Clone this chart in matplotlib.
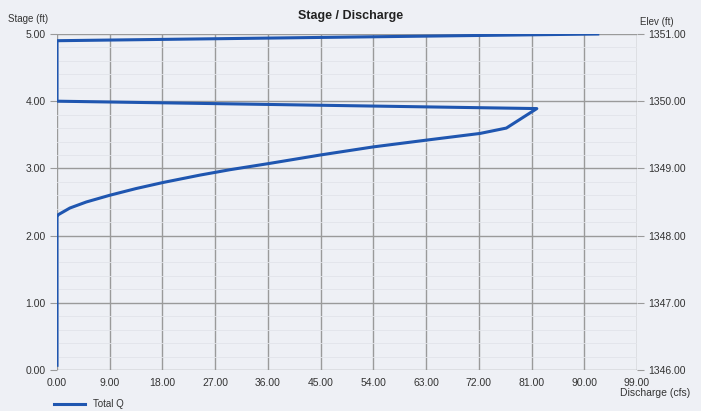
import numpy as np
import matplotlib.pyplot as plt
from matplotlib.ticker import MultipleLocator, FormatStrFormatter

plt.rcParams['font.family'] = ['Liberation Sans', 'DejaVu Sans']

# Total Q rating curve (discharge cfs, stage ft)
discharge = [0.0, 0.0, 0.2, 2.2, 5.0, 9.0, 13.5, 18.1, 24.4, 29.5, 36.0, 45.0,
             54.0, 63.0, 72.2, 76.7, 81.9, 0.0, 0.0, 92.3]
stage = [0.07, 2.28, 2.31, 2.41, 2.50, 2.60, 2.70, 2.79, 2.90, 2.98, 3.07, 3.20,
         3.32, 3.42, 3.52, 3.60, 3.89, 4.00, 4.90, 5.00]

elev_base = 1346.0
bg = '#eef0f5'
grid_c = '#9a9a9a'
line_c = '#1f56b0'

fig = plt.figure(figsize=(7.01, 4.11), dpi=100, facecolor=bg)
ax = fig.add_axes([0.0813, 0.0998, 0.8274, 0.8175], facecolor=bg)

ax.plot(discharge, stage, color=line_c, lw=2.2, label='Total Q', solid_joinstyle='round')

ax.set_xlim(0, 99)
ax.set_ylim(0, 5)
ax.xaxis.set_major_locator(MultipleLocator(9))
ax.yaxis.set_major_locator(MultipleLocator(1))
ax.yaxis.set_minor_locator(MultipleLocator(0.2))
ax.xaxis.set_major_formatter(FormatStrFormatter('%.2f'))
ax.yaxis.set_major_formatter(FormatStrFormatter('%.2f'))
ax.grid(True, which='major', color=grid_c, lw=1.0)
ax.grid(True, which='minor', axis='y', color='#e2e4ea', lw=0.6)
for s in ax.spines.values():
    s.set_visible(False)
ax.tick_params(axis='x', length=0, pad=6, labelsize=7.5, colors='#333333')
ax.tick_params(axis='y', length=5, color=grid_c, labelsize=7.5, colors='#333333', pad=3)
ax.tick_params(axis='y', which='minor', length=0)
for t in ax.get_xticklabels() + ax.get_yticklabels():
    t.set_color('#333333')

ax2 = ax.twinx()
ax2.set_ylim(elev_base, elev_base + 5)
ax2.yaxis.set_major_locator(MultipleLocator(1))
ax2.yaxis.set_major_formatter(FormatStrFormatter('%.2f'))
for s in ax2.spines.values():
    s.set_visible(False)
ax2.tick_params(axis='y', length=5, color=grid_c, labelsize=7.5, labelcolor='#333333', pad=3)

fig.text(0.5, 0.975, 'Stage / Discharge', ha='center', va='top', fontsize=9,
         fontweight='bold', color='#222222')
fig.text(0.012, 0.965, 'Stage (ft)', ha='left', va='top', fontsize=7, color='#333333')
fig.text(0.913, 0.958, 'Elev (ft)', ha='left', va='top', fontsize=7, color='#333333')
fig.text(0.985, 0.045, 'Discharge (cfs)', ha='right', va='center', fontsize=7.5, color='#333333')

ax.legend(loc='upper left', bbox_to_anchor=(-0.012, -0.075), frameon=False,
          fontsize=7, handlelength=3.2, borderaxespad=0, labelcolor='#333333')

fig.savefig('out.png', dpi=100, facecolor=bg)
